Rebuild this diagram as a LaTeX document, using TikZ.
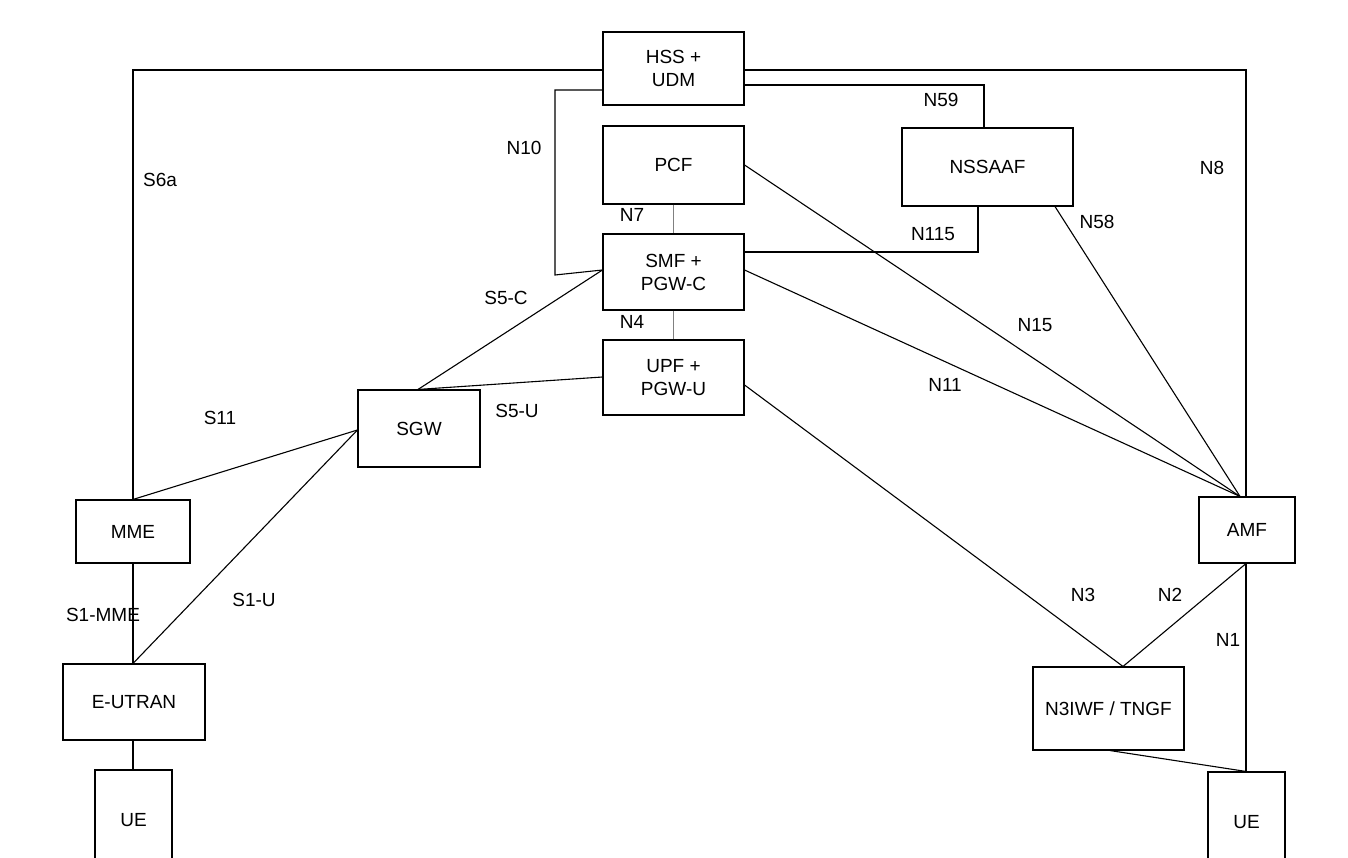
\documentclass[tikz,border=0pt]{standalone}
\usepackage{fontspec}
\setmainfont{Liberation Sans}
\begin{document}
\begin{tikzpicture}[x=1pt,y=-1pt,
  box/.style={draw,line width=1.1pt,fill=white,align=center,font=\fontsize{19}{23}\selectfont},
  ln/.style={line width=1.1pt},
  thin/.style={line width=0.6pt,draw=gray},
  lb/.style={font=\fontsize{19}{23}\selectfont}]
\useasboundingbox (0,0) rectangle (1348,858);
\def\bx#1#2#3#4#5#6{\node[box,minimum width=#4-#2 pt,minimum height=#5-#3 pt] (#1) at ({(#2+#4)/2},{(#3+#5)/2}) {#6};}
\bx{hss}{603}{32}{744}{105}{HSS +\\UDM}
\bx{pcf}{603}{126}{744}{204}{PCF}
\bx{nss}{902}{128}{1073}{206}{NSSAAF}
\bx{smf}{603}{234}{744}{310}{SMF +\\PGW-C}
\bx{upf}{603}{340}{744}{415}{UPF +\\PGW-U}
\bx{sgw}{358}{390}{480}{467}{SGW}
\bx{mme}{76}{500}{190}{563}{MME}
\bx{amf}{1199}{497}{1295}{563}{AMF}
\bx{eut}{63}{664}{205}{740}{E-UTRAN}
\node[box,minimum width=77pt,minimum height=100pt] (ue1) at (133.5,820) {\raisebox{-8pt}{UE}};
\bx{n3}{1033}{667}{1184}{750}{N3IWF / TNGF}
\node[box,minimum width=77pt,minimum height=100pt] (ue2) at (1246.5,822) {\raisebox{-8pt}{UE}};
\begin{scope}[on background layer/.style={}]
\end{scope}
\begin{pgfinterruptboundingbox}\end{pgfinterruptboundingbox}
% connectors
\draw[ln] (hss.west |- 0,70) -- (133,70) -- (mme.north -| 133,0);
\draw[ln] (hss.east |- 0,70) -- (1246,70) -- (amf.north -| 1246,0);
\draw[ln] (hss.east |- 0,85) -- (984,85) -- (nss.north -| 984,0);
\draw[ln] (hss.west |- 0,90) -- (555,90) -- (555,275) -- (smf.west |- 0,270);
\draw[thin] (pcf.south) -- (smf.north);
\draw[thin] (smf.south) -- (upf.north);
\draw[ln] (nss.south -| 978,0) -- (978,252) -- (smf.east |- 0,252);
\draw[ln] (nss.south -| 1055,0) -- (amf.north -| 1240,0);
\draw[ln] (pcf.east |- 0,165) -- (amf.north -| 1240,0);
\draw[ln] (smf.east |- 0,270) -- (amf.north -| 1240,0);
\draw[ln] (smf.west |- 0,270) -- (sgw.north -| 418,0);
\draw[ln] (upf.west |- 0,377) -- (sgw.north -| 418,0);
\draw[ln] (upf.east |- 0,385) -- (n3.north -| 1123,0);
\draw[ln] (amf.south -| 1246,0) -- (n3.north -| 1123,0);
\draw[ln] (amf.south -| 1246,0) -- (ue2.north -| 1246,0);
\draw[ln] (sgw.west |- 0,430) -- (mme.north -| 133,0);
\draw[ln] (sgw.west |- 0,430) -- (eut.north -| 133,0);
\draw[ln] (mme.south -| 133,0) -- (eut.north -| 133,0);
\draw[ln] (eut.south -| 133,0) -- (ue1.north -| 133,0);
\draw[ln] (n3.south -| 1110,0) -- (ue2.north -| 1246,0);
% labels
\node[lb] at (160,180) {S6a};
\node[lb] at (1212,168) {N8};
\node[lb] at (1228,640) {N1};
\node[lb] at (941,100) {N59};
\node[lb] at (524,148) {N10};
\node[lb] at (632,215) {N7};
\node[lb] at (632,322) {N4};
\node[lb] at (933,234) {N115};
\node[lb] at (1097,222) {N58};
\node[lb] at (1035,325) {N15};
\node[lb] at (945,385) {N11};
\node[lb] at (506,298) {S5-C};
\node[lb] at (517,411) {S5-U};
\node[lb] at (1083,595) {N3};
\node[lb] at (1170,595) {N2};
\node[lb] at (220,418) {S11};
\node[lb] at (254,600) {S1-U};
\node[lb] at (103,615) {S1-MME};
\end{tikzpicture}
\end{document}
